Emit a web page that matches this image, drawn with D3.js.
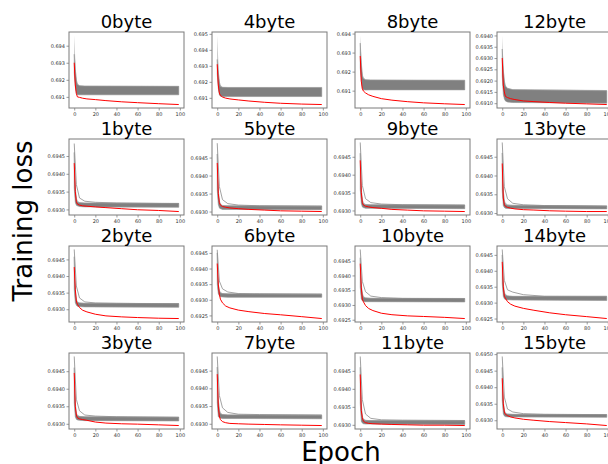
<!DOCTYPE html>
<html>
<head>
<meta charset="utf-8">
<script src="https://cdn.jsdelivr.net/npm/d3@7"></script>
<style>
  body { margin: 0; background: #fff; }
  svg { display: block; font-family: "DejaVu Sans", sans-serif; }
</style>
</head>
<body>
<svg id="chart" width="608" height="464"></svg>
<script>
// byte index -> panel; column = floor(b/4), row = b % 4
const titles = d3.range(16).map(b => b + "byte");
const xTicks = [0, 20, 40, 60, 80, 100];
const lastEpoch = 99;

const epochs = [0, 1, 2, 3, 5, 8, 12, 20, 30, 45, 60, 80, 99];
const bandEpochs = [0, 1, 2, 3, 5, 10, 99];
const slowEpochs = [0, 2, 5, 10, 20, 40, 99];

// red: correct key guess
const redLoss = [
  [0.6930, 0.6917, 0.6912, 0.6910, 0.69097, 0.69092, 0.69088, 0.69084, 0.69078, 0.69071, 0.69066, 0.69060, 0.69055],
  [0.6943, 0.6935, 0.69322, 0.69315, 0.69312, 0.6931, 0.69309, 0.69307, 0.69305, 0.69302, 0.69299, 0.69297, 0.69294],
  [0.69427, 0.6936, 0.69325, 0.69315, 0.69305, 0.69297, 0.69292, 0.69285, 0.6928, 0.69277, 0.69275, 0.69273, 0.69272],
  [0.69445, 0.6935, 0.69325, 0.69317, 0.69314, 0.69312, 0.6931, 0.69305, 0.69302, 0.693, 0.69299, 0.69297, 0.69295],
  [0.6931, 0.6918, 0.6913, 0.69115, 0.69105, 0.69098, 0.69093, 0.69087, 0.6908, 0.69072, 0.69066, 0.69061, 0.69058],
  [0.69435, 0.6935, 0.69325, 0.69318, 0.69314, 0.69312, 0.6931, 0.69308, 0.69306, 0.69304, 0.69302, 0.69301, 0.693],
  [0.69416, 0.6935, 0.69318, 0.69302, 0.6929, 0.6928, 0.69274, 0.69267, 0.69262, 0.69256, 0.69252, 0.69246, 0.6924],
  [0.6944, 0.6935, 0.69322, 0.69312, 0.69306, 0.69303, 0.69301, 0.693, 0.69299, 0.69298, 0.69297, 0.69296, 0.69295],
  [0.69282, 0.6915, 0.6911, 0.69098, 0.69088, 0.69078, 0.6907, 0.69058, 0.6905, 0.69042, 0.69036, 0.69031, 0.69027],
  [0.6944, 0.6935, 0.69322, 0.69315, 0.69312, 0.6931, 0.69308, 0.69306, 0.69303, 0.69301, 0.69299, 0.69298, 0.69297],
  [0.6944, 0.6936, 0.6932, 0.69311, 0.69298, 0.69288, 0.69281, 0.69272, 0.69267, 0.69263, 0.69261, 0.69258, 0.69254],
  [0.6944, 0.6934, 0.6932, 0.6931, 0.69306, 0.69304, 0.69303, 0.69302, 0.69301, 0.693, 0.69299, 0.69299, 0.69298],
  [0.6930, 0.6918, 0.6915, 0.6913, 0.69125, 0.6912, 0.69116, 0.6911, 0.69107, 0.69103, 0.691, 0.69097, 0.69094],
  [0.69432, 0.6934, 0.69322, 0.69318, 0.69315, 0.69313, 0.69311, 0.69309, 0.69308, 0.69306, 0.69305, 0.69304, 0.69304],
  [0.69428, 0.6935, 0.6932, 0.69314, 0.69303, 0.69295, 0.69289, 0.69282, 0.69276, 0.69268, 0.69262, 0.69256, 0.6925],
  [0.69427, 0.6935, 0.69325, 0.69318, 0.69314, 0.6931, 0.69307, 0.69303, 0.693, 0.69296, 0.69293, 0.69289, 0.69284]
];

// grey: all wrong key guesses, read as envelopes
const greyMax = [
  [0.6946, 0.6932, 0.6922, 0.6918, 0.69166, 0.69165, 0.69163],
  [0.69488, 0.6938, 0.6934, 0.69325, 0.6932, 0.69319, 0.69318],
  [0.6948, 0.6937, 0.69334, 0.69324, 0.6932, 0.69319, 0.69318],
  [0.69492, 0.6937, 0.69337, 0.69326, 0.69322, 0.69321, 0.6932],
  [0.6949, 0.6933, 0.6922, 0.6918, 0.69168, 0.69166, 0.69165],
  [0.69492, 0.6938, 0.6934, 0.69323, 0.69318, 0.69317, 0.69316],
  [0.69461, 0.6936, 0.69335, 0.69325, 0.69321, 0.6932, 0.69319],
  [0.6949, 0.6938, 0.6935, 0.69332, 0.69327, 0.69326, 0.69325],
  [0.6939, 0.6928, 0.692, 0.6917, 0.69158, 0.69157, 0.69155],
  [0.6949, 0.6938, 0.6934, 0.69323, 0.69318, 0.69317, 0.69316],
  [0.69488, 0.6938, 0.69345, 0.6933, 0.69325, 0.69324, 0.69323],
  [0.6949, 0.6937, 0.69332, 0.69318, 0.69314, 0.69313, 0.69312],
  [0.694, 0.6928, 0.6921, 0.6918, 0.69168, 0.69162, 0.69158],
  [0.69488, 0.6938, 0.6934, 0.69328, 0.69323, 0.69322, 0.6932],
  [0.69467, 0.6937, 0.6934, 0.69328, 0.69322, 0.69321, 0.6932],
  [0.69493, 0.6937, 0.69334, 0.69324, 0.6932, 0.69319, 0.69318]
];
const greyTop = [
  [0.6935, 0.6926, 0.692, 0.69172, 0.69165, 0.69163, 0.69162],
  [0.6946, 0.6936, 0.6933, 0.6932, 0.69319, 0.69318, 0.69317],
  [0.69458, 0.6936, 0.6933, 0.6932, 0.69319, 0.69318, 0.69317],
  [0.6946, 0.6936, 0.6933, 0.69323, 0.69321, 0.6932, 0.69319],
  [0.6934, 0.6926, 0.692, 0.6917, 0.69166, 0.69165, 0.69165],
  [0.6946, 0.6936, 0.6933, 0.69318, 0.69316, 0.69316, 0.69315],
  [0.6945, 0.6935, 0.6933, 0.69322, 0.6932, 0.69319, 0.69318],
  [0.6946, 0.6937, 0.6934, 0.69328, 0.69326, 0.69325, 0.69324],
  [0.6935, 0.6925, 0.6918, 0.69163, 0.69157, 0.69156, 0.69155],
  [0.6946, 0.6936, 0.6933, 0.69318, 0.69316, 0.69316, 0.69315],
  [0.6946, 0.6937, 0.6934, 0.69326, 0.69324, 0.69323, 0.69322],
  [0.6946, 0.6936, 0.6932, 0.69314, 0.69312, 0.69312, 0.69311],
  [0.6934, 0.6925, 0.692, 0.69175, 0.69165, 0.6916, 0.69155],
  [0.6946, 0.6936, 0.6933, 0.69323, 0.69321, 0.6932, 0.69319],
  [0.6945, 0.6936, 0.6933, 0.69323, 0.69321, 0.6932, 0.69319],
  [0.6946, 0.6936, 0.6933, 0.6932, 0.69319, 0.69318, 0.69317]
];
const greyLow = [
  [0.6924, 0.6916, 0.6912, 0.69113, 0.69112, 0.69112, 0.69112],
  [0.6936, 0.6932, 0.69312, 0.6931, 0.69308, 0.69307, 0.69306],
  [0.6936, 0.6932, 0.69312, 0.69309, 0.69308, 0.69307, 0.69306],
  [0.6936, 0.6932, 0.69313, 0.69311, 0.6931, 0.69309, 0.69308],
  [0.6925, 0.6916, 0.6912, 0.6911, 0.69108, 0.69108, 0.69108],
  [0.6936, 0.6932, 0.6931, 0.69308, 0.69306, 0.69306, 0.69305],
  [0.6935, 0.6932, 0.69313, 0.6931, 0.69309, 0.69308, 0.69308],
  [0.6936, 0.6932, 0.69318, 0.69316, 0.69315, 0.69315, 0.69314],
  [0.6922, 0.6915, 0.6911, 0.69105, 0.69103, 0.69104, 0.69104],
  [0.6936, 0.6932, 0.6931, 0.69308, 0.69306, 0.69306, 0.69305],
  [0.6936, 0.6932, 0.69314, 0.69312, 0.69311, 0.69311, 0.6931],
  [0.6936, 0.6931, 0.69305, 0.69303, 0.69302, 0.69302, 0.69301],
  [0.6922, 0.6914, 0.6912, 0.6911, 0.69105, 0.69103, 0.691],
  [0.6936, 0.6932, 0.69315, 0.69313, 0.69312, 0.69312, 0.69311],
  [0.6936, 0.6932, 0.69312, 0.6931, 0.69309, 0.69308, 0.69307],
  [0.6936, 0.6932, 0.69313, 0.69311, 0.6931, 0.6931, 0.69309]
];
// a few grey guesses that converge more slowly (null: none visible)
const slowLoss = [
  null,
  [0.69485, 0.6937, 0.69332, 0.69323, 0.6932, 0.69318, 0.69316],
  [0.6948, 0.6937, 0.69334, 0.69322, 0.69319, 0.69318, 0.69316],
  [0.69492, 0.6937, 0.69337, 0.69325, 0.69322, 0.6932, 0.69318],
  null,
  [0.6949, 0.6937, 0.69333, 0.69322, 0.69318, 0.69316, 0.69315],
  [0.6946, 0.6936, 0.69335, 0.69325, 0.6932, 0.69319, 0.69318],
  [0.6949, 0.6938, 0.69345, 0.69332, 0.69327, 0.69326, 0.69325],
  null,
  [0.6949, 0.6937, 0.69333, 0.69322, 0.69318, 0.69316, 0.69315],
  [0.69488, 0.6938, 0.69345, 0.6933, 0.69325, 0.69322, 0.69321],
  [0.6949, 0.6937, 0.6933, 0.69318, 0.69314, 0.69313, 0.69312],
  null,
  [0.69488, 0.6937, 0.69338, 0.69326, 0.69322, 0.6932, 0.69318],
  [0.69467, 0.6937, 0.6934, 0.69333, 0.69325, 0.6932, 0.6932],
  [0.69493, 0.6937, 0.69334, 0.69325, 0.6932, 0.69318, 0.69317]
];

const yTicks = [
  [0.691, 0.692, 0.693, 0.694],
  [0.693, 0.6935, 0.694, 0.6945],
  [0.693, 0.6935, 0.694, 0.6945],
  [0.693, 0.6935, 0.694, 0.6945],
  [0.691, 0.692, 0.693, 0.694, 0.695],
  [0.693, 0.6935, 0.694, 0.6945],
  [0.6925, 0.693, 0.6935, 0.694, 0.6945],
  [0.693, 0.6935, 0.694, 0.6945],
  [0.691, 0.692, 0.693, 0.694],
  [0.693, 0.6935, 0.694, 0.6945],
  [0.6925, 0.693, 0.6935, 0.694, 0.6945],
  [0.693, 0.6935, 0.694, 0.6945],
  [0.691, 0.6915, 0.692, 0.6925, 0.693, 0.6935, 0.694],
  [0.693, 0.6935, 0.694, 0.6945],
  [0.6925, 0.693, 0.6935, 0.694, 0.6945],
  [0.693, 0.6935, 0.694, 0.6945, 0.695]
];

const svg = d3.select("#chart");
const W = 115, H = 76;
const colX = [69, 212, 355, 497], rowY = [32, 139, 246, 353];

const x = d3.scaleLinear().domain([-0.05 * lastEpoch, lastEpoch * 1.05]).range([0, W]);

titles.forEach((name, b) => {
  const g = svg.append("g").attr("transform", `translate(${colX[Math.floor(b / 4)]},${rowY[b % 4]})`);

  // matplotlib style autoscale: data extent plus 5% margin
  const hi = d3.max(greyMax[b]), lo = d3.min(redLoss[b]);
  const pad = (hi - lo) * 0.05;
  const y = d3.scaleLinear().domain([lo - pad, hi + pad]).range([H, 0]);

  const band = (top, low) => d3.area()
    .x((d, i) => x(bandEpochs[i]))
    .y0((d, i) => y(low[i]))
    .y1(d => y(d))(top);

  g.append("path").attr("d", band(greyMax[b], greyLow[b]))
    .attr("fill", "#bcbcbc");
  g.append("path").attr("d", band(greyTop[b], greyLow[b]))
    .attr("fill", "#808080").attr("stroke", "#9a9a9a").attr("stroke-width", 0.6);

  if (slowLoss[b]) {
    g.append("path")
      .attr("d", d3.line().x((d, i) => x(slowEpochs[i])).y(d => y(d))(slowLoss[b]))
      .attr("fill", "none").attr("stroke", "#8c8c8c").attr("stroke-width", 0.8);
  }

  g.append("path")
    .attr("d", d3.line().x((d, i) => x(epochs[i])).y(d => y(d))(redLoss[b]))
    .attr("fill", "none").attr("stroke", "red").attr("stroke-width", 1);

  const step = yTicks[b][1] - yTicks[b][0];
  const fmt = d3.format("." + d3.precisionFixed(step) + "f");

  const ya = g.append("g")
    .call(d3.axisLeft(y).tickValues(yTicks[b]).tickFormat(fmt).tickSize(2.5).tickPadding(1.5));
  const xa = g.append("g").attr("transform", `translate(0,${H})`)
    .call(d3.axisBottom(x).tickValues(xTicks).tickSize(2.5).tickPadding(1.5));
  [ya, xa].forEach(a => {
    a.select(".domain").remove();
    a.selectAll("line").attr("stroke", "#555").attr("stroke-width", 0.6);
    a.selectAll("text").attr("fill", "#333").style("font-size", "5px")
      .style("font-family", "DejaVu Sans, sans-serif");
  });

  g.append("rect").attr("width", W).attr("height", H)
    .attr("fill", "none").attr("stroke", "#7a7a7a").attr("stroke-width", 1);

  g.append("text").attr("x", W / 2).attr("y", -4)
    .attr("text-anchor", "middle").style("font-size", "18px").text(name);
});

svg.append("text")
  .attr("transform", "translate(32,221) rotate(-90)")
  .attr("text-anchor", "middle").style("font-size", "26px").text("Training loss");

svg.append("text").attr("x", 341).attr("y", 461)
  .attr("text-anchor", "middle").style("font-size", "26px").text("Epoch");
</script>
</body>
</html>
